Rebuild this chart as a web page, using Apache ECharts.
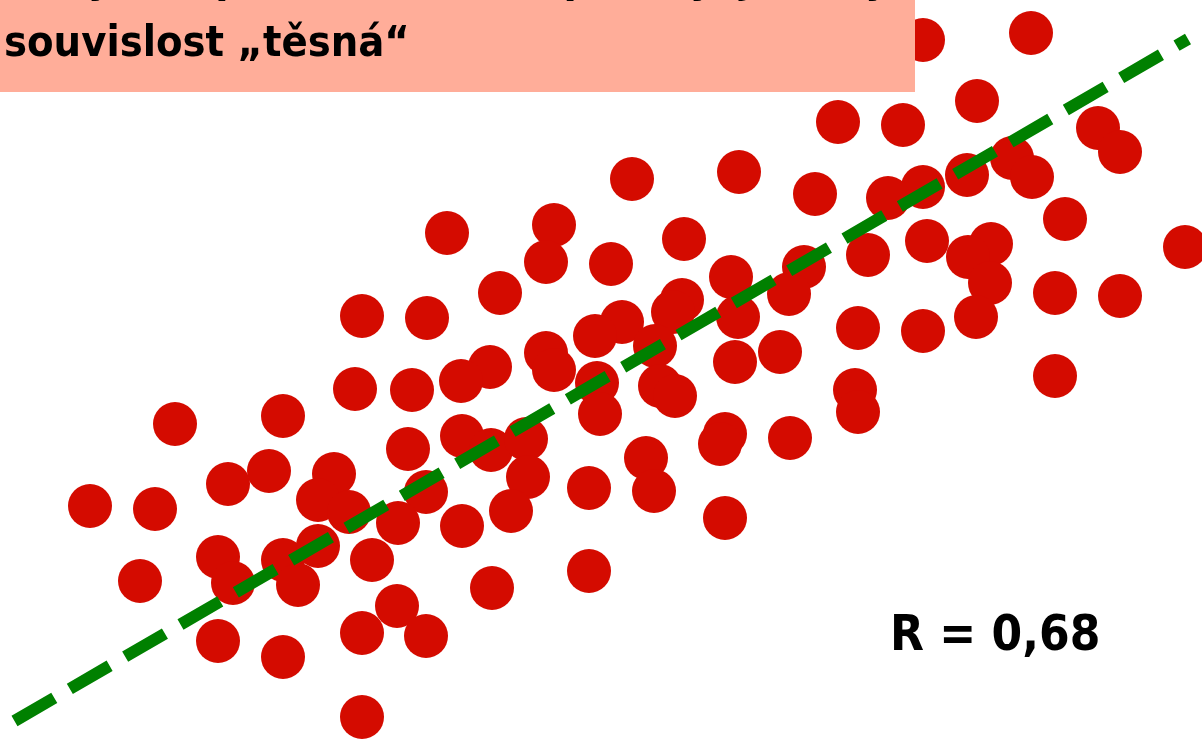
<!DOCTYPE html>
<html>
<head>
<meta charset="utf-8">
<script src="https://cdn.jsdelivr.net/npm/echarts@6/dist/echarts.min.js"></script>
<style>
html,body{margin:0;padding:0;background:#fff;}
#chart{width:1202px;height:739px;}
</style>
</head>
<body>
<div id="chart"></div>
<script>
// Scatter values (arbitrary units)
const xValues = [92.3,103.1,97.7,83.8,90.3,109.8,112.0,101.2,103.2,96.7,92.3,88.8,81.5,73.9,63.2,106.5,44.7,55.4,54.6,61.1,68.4,92.7,99.1,96.8,86.8,118.5,80.4,73.1,78.9,99.0,105.5,112.0,50.0,68.2,67.3,73.8,62.2,59.5,65.5,36.2,42.7,97.6,85.8,92.3,78.0,73.5,54.6,55.4,49.0,46.1,59.7,35.5,41.2,66.0,67.5,85.5,85.8,105.5,60.0,17.5,28.3,46.2,49.1,52.6,40.8,72.5,72.0,79.0,64.6,26.9,22.8,33.4,31.8,34.9,42.6,52.8,58.9,65.4,9.0,15.5,39.8,46.2,51.1,72.5,21.8,28.3,31.8,37.2,14.0,23.3,29.8,58.9,49.2,39.7,21.8,36.2,42.6,28.3,36.2];
const yValues = [69.9,70.6,63.8,61.7,61.4,61.1,58.7,58.1,56.2,56.4,55.2,54.1,54.5,56.7,56.0,52.0,50.6,51.4,47.7,47.5,50.0,49.8,49.5,48.2,48.4,49.2,47.2,46.2,44.5,45.6,44.6,44.3,44.6,43.9,42.7,42.2,41.7,40.3,39.3,42.3,42.1,42.2,41.1,40.8,38.7,37.7,38.6,36.9,37.2,35.8,35.6,35.0,34.9,35.3,34.3,34.9,32.7,36.3,32.5,31.5,32.3,30.3,28.9,30.0,29.0,30.5,29.5,30.1,28.1,26.8,25.5,26.5,23.9,22.7,24.7,26.2,25.1,24.8,23.3,23.0,21.6,21.3,22.8,22.1,18.2,17.9,19.3,17.9,15.8,15.6,15.4,16.8,15.1,13.3,9.8,10.6,10.3,8.2,2.2];
// Regression line end points
const trendX = [1.45, 118.8];
const trendY = [1.8, 70.0];
// Texts
const titleLines = ['Body leží poměrně blízko přímky, je tedy', 'souvislost „těsná“'];
const rLabel = 'R = 0,68';

const points = xValues.map((x, i) => [x, yValues[i]]);
const trend = trendX.map((x, i) => [x, trendY[i]]);

const chart = echarts.init(document.getElementById('chart'), null, {renderer: 'canvas'});
const font = "'DejaVu Sans Condensed', 'DejaVu Sans', sans-serif";
chart.setOption({
  animation: false,
  backgroundColor: '#ffffff',
  grid: {left: 0, right: 0, top: 0, bottom: 0},
  xAxis: {type: 'value', min: 0, max: 120.2, show: false, splitLine: {show: false}},
  yAxis: {type: 'value', min: 0, max: 73.9, show: false, splitLine: {show: false}},
  series: [
    {
      type: 'scatter',
      data: points,
      symbol: 'circle',
      symbolSize: 44,
      itemStyle: {color: '#D40B00', opacity: 1},
      z: 2
    },
    {
      type: 'line',
      data: trend,
      symbol: 'none',
      lineStyle: {color: '#008000', width: 12, type: [46, 18], cap: 'butt'},
      z: 3
    }
  ],
  graphic: [
    {
      type: 'rect',
      z: 10,
      shape: {x: 0, y: 0, width: 915, height: 92},
      style: {fill: '#FFAD99'}
    },
    {
      type: 'text',
      z: 11,
      style: {text: titleLines[0], x: 4, y: -19, fill: '#000', font: 'bold 43px ' + font, textVerticalAlign: 'middle'}
    },
    {
      type: 'text',
      z: 11,
      style: {text: titleLines[1], x: 4, y: 45, fill: '#000', font: 'bold 43px ' + font, textVerticalAlign: 'middle'}
    },
    {
      type: 'text',
      z: 11,
      style: {text: rLabel, x: 890, y: 637, fill: '#000', font: 'bold 49px ' + font, textVerticalAlign: 'middle'}
    }
  ]
});
</script>
</body>
</html>
